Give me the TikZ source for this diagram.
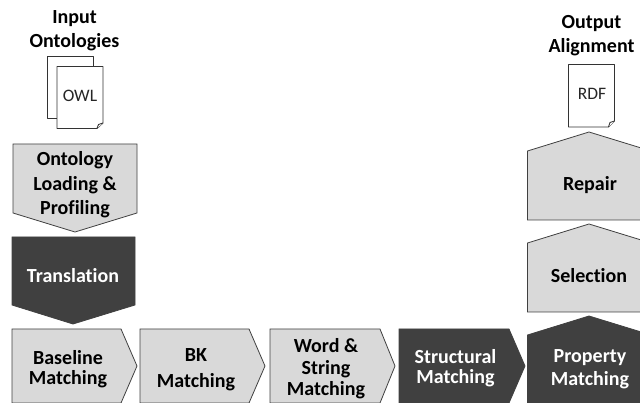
\documentclass[tikz,border=0pt]{standalone}
\usepackage{fontspec}
\setmainfont[Ligatures=NoCommon]{Carlito}
\usetikzlibrary{positioning}
\usetikzlibrary{calc}

\definecolor{lightstep}{HTML}{D9D9D9}
\definecolor{darkstep}{HTML}{404040}

\begin{document}
\begin{tikzpicture}[
    x = 1pt, y = -1pt,
    light/.style = {
      draw = darkstep, line width = .8pt, fill = lightstep,
    },
    dark/.style = {
      draw = darkstep, line width = .8pt, fill = darkstep,
    },
    paper/.style = {
      draw = black!80, line width = .9pt, fill = white, line join = round,
    },
    title/.style = {
      font = \bfseries\fontsize{20}{24.5}\selectfont,
      align = center, inner sep = 0pt, text = black,
    },
    whitetitle/.style = {
      title, text = white,
    },
    filetype/.style = {
      font = \fontsize{17.5}{21.5}\selectfont,
      inner sep = 0pt, text = black!85,
    },
  ]
  \path[use as bounding box, clip] (0,0) rectangle (640,403);

  % input files
  \node[title] (input) at (74.5,30.5) {Input\\Ontologies};
  \draw[paper] (47.5,56) -- (93,56) -- (93,118) -- (47.5,118) -- cycle;
  \draw[paper] (57,66.5) -- (103,66.5) -- (103,123) -- (97,128.5) -- (57,128.5) -- cycle;
  \draw[paper] (97,128.5) -- (98.5,124.5) -- (103,123);
  \node[filetype] (owl) at (80,96) {OWL};

  % left column
  \draw[light] (13,144) -- (137,144) -- (137,213) -- (75,232) -- (13,213) -- cycle;
  \node[title] (loading) at (75,185) {Ontology\\Loading \&\\Profiling};

  \draw[dark] (12,237) -- (135,237) -- (135,305) -- (73,324) -- (12,305) -- cycle;
  \node[whitetitle] (translation) at (73,276) {Translation};

  % bottom row
  \draw[light] (12,329) -- (121,329) -- (137,366) -- (121,403) -- (12,403) -- cycle;
  \node[title] (baseline) at (68,369) {Baseline\\[-4.5pt]Matching};

  \draw[light] (140,329) -- (249,329) -- (265,366) -- (249,403) -- (140,403) -- cycle;
  \node[title] (bk) at (196,370) {BK\\[1.5pt]Matching};

  \draw[light] (270,329) -- (380,329) -- (395,366) -- (380,403) -- (270,403) -- cycle;
  \node[title] (word) at (326,369) {Word \&\\[-3pt]String\\[-3pt]Matching};

  \draw[dark] (399,329) -- (509,329) -- (525,366) -- (509,403) -- (399,403) -- cycle;
  \node[whitetitle] (structural) at (455.5,368) {Structural\\[-4.5pt]Matching};

  % right column
  \draw[dark] (527.5,335) -- (589,316) -- (651,335) -- (651,410) -- (527.5,410) -- cycle;
  \node[whitetitle] (property) at (590,369.5) {Property\\[-1.5pt]Matching};

  \draw[light] (527.5,243) -- (589,224) -- (651,243) -- (651,312) -- (527.5,312) -- cycle;
  \node[title] (selection) at (589,276) {Selection};

  \draw[light] (527.5,151) -- (589,132) -- (651,151) -- (651,220) -- (527.5,220) -- cycle;
  \node[title] (repair) at (590,185) {Repair};

  % output file
  \draw[paper] (568.5,64.5) -- (614.5,64.5) -- (614.5,121) -- (608.5,127) -- (568.5,127) -- cycle;
  \draw[paper] (608.5,127) -- (610,122.5) -- (614.5,121);
  \node[filetype] (rdf) at (592,94) {RDF};

  \node[title] (output) at (591.5,35.5) {Output\\Alignment};
\end{tikzpicture}
\end{document}
